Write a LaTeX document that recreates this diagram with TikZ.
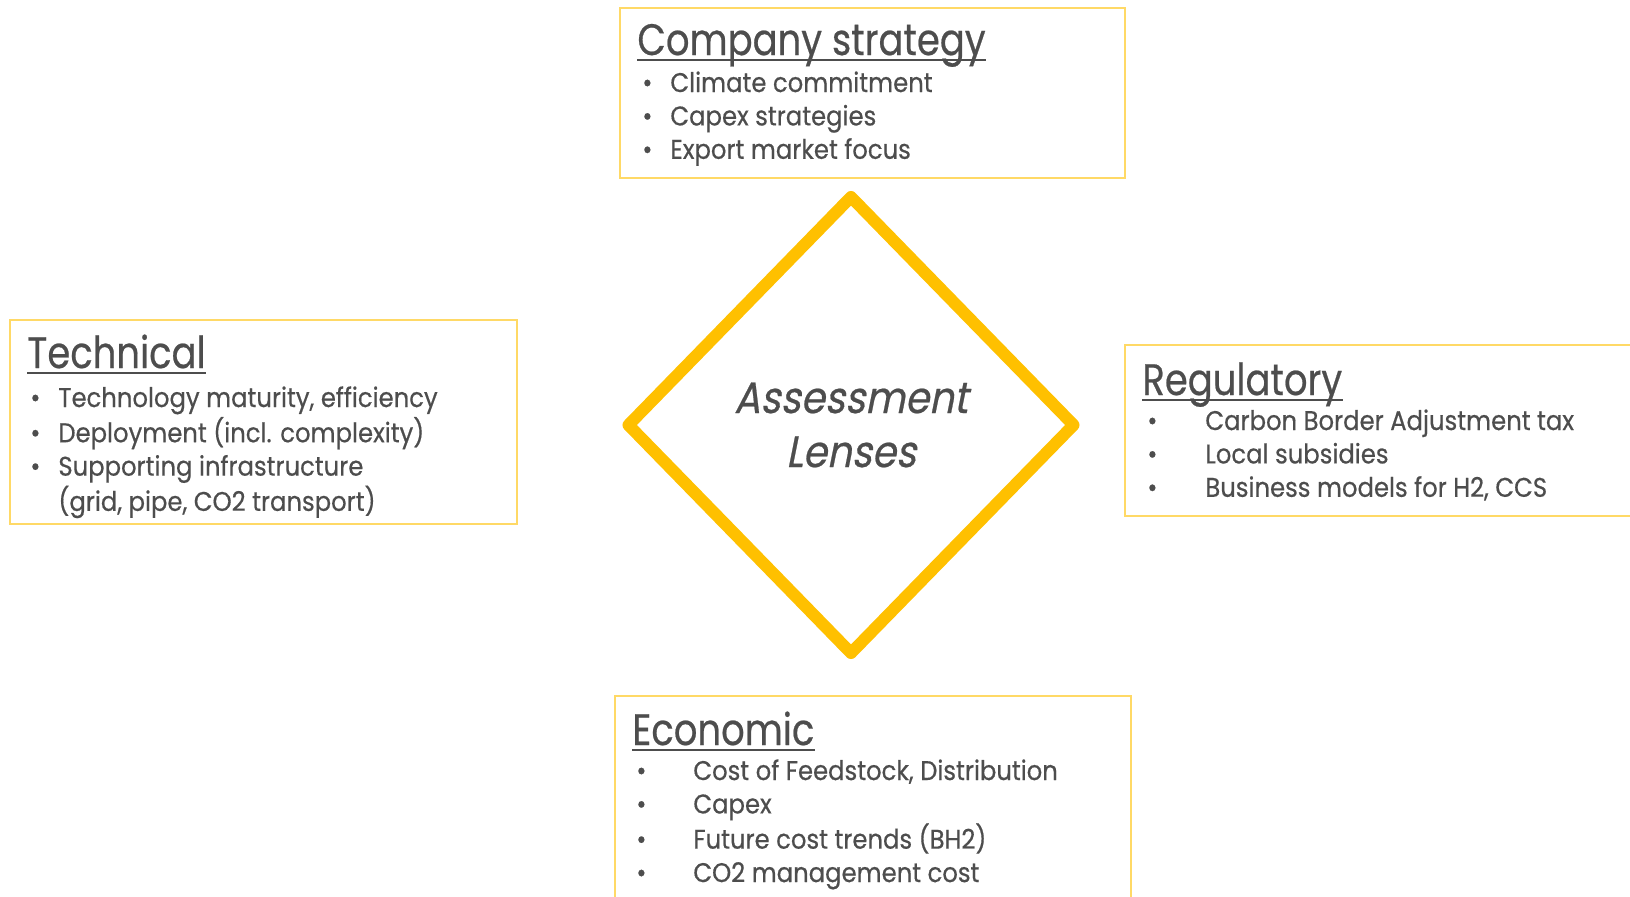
\documentclass[tikz,border=0pt]{standalone}
\usepackage{fontspec}
\setmainfont[FakeStretch=0.9,FakeBold=0.5]{Poppins}
\newfontfamily\headfont[FakeStretch=0.84,FakeBold=0.5]{Poppins}
\newfontfamily\lensfont[FakeSlant=0.2,FakeStretch=0.88,FakeBold=0.5]{Poppins}
\usetikzlibrary{shapes.geometric,calc}

\definecolor{lensyellow}{HTML}{FFC000}
\definecolor{boxyellow}{HTML}{FFD966}
\definecolor{inkgray}{HTML}{4D4D4D}

\begin{document}
\begin{tikzpicture}[
  x=0.5pt, y=-0.5pt,
  text=inkgray,
  box/.style={draw=boxyellow, line width=0.9pt, anchor=north west, inner sep=0pt},
  head/.style={font=\headfont\fontsize{22}{26}\selectfont, inner sep=0pt, anchor=base west},
  uline/.style={draw=inkgray, line width=1.4pt},
  items/.style={font=\fontsize{13.5}{16.7}\selectfont, inner sep=0pt, anchor=base west},
  lens/.style={diamond, draw=lensyellow, line width=6pt, line join=round, minimum width=225pt, minimum height=230.5pt, inner sep=0pt, align=center, font=\lensfont\fontsize{22}{27}\selectfont}
]
\clip (0,0) rectangle (1630,896);

% ----- CENTRE -----
\node[lens] (lens) at (851,425) {Assessment\\Lenses};

% ----- COMPANY STRATEGY (TOP) -----
\node[box, minimum width=252.5pt, minimum height=85pt] (strategy) at (619,7) {};
\node[head] (strategyhead) at (637,55) {Company strategy};
\draw[uline] ($(strategyhead.base west)+(0,5)$) -- ($(strategyhead.base east)+(0,5)$);
\node[items] (strategyitems) at (642,92) {\begin{tabular}[t]{@{}p{14pt}@{}l@{}}
  \textbullet & Climate commitment\\
  \textbullet & Capex strategies\\
  \textbullet & Export market focus
\end{tabular}};

% ----- TECHNICAL (LEFT) -----
\node[box, minimum width=253.5pt, minimum height=102pt] (technical) at (9,319) {};
\node[head] (technicalhead) at (27,368) {Technical};
\draw[uline] ($(technicalhead.base west)+(0,5)$) -- ($(technicalhead.base east)+(0,5)$);
\node[items] (technicalitems) at (30,407) {\begin{tabular}[t]{@{}p{14pt}@{}l@{}}
  \textbullet & Technology maturity, efficiency\\
  \textbullet & Deployment (incl. complexity)\\
  \textbullet & Supporting infrastructure\\
  & (grid, pipe, CO2 transport)
\end{tabular}};

% ----- REGULATORY (RIGHT) -----
\node[box, minimum width=263pt, minimum height=85.5pt] (regulatory) at (1124,344) {};
\node[head] (regulatoryhead) at (1142,395) {Regulatory};
\draw[uline] ($(regulatoryhead.base west)+(0,5)$) -- ($(regulatoryhead.base east)+(0,5)$);
\node[items] (regulatoryitems) at (1147,430) {\begin{tabular}[t]{@{}p{29pt}@{}l@{}}
  \textbullet & Carbon Border Adjustment tax\\
  \textbullet & Local subsidies\\
  \textbullet & Business models for H2, CCS
\end{tabular}};

% ----- ECONOMIC (BOTTOM) -----
\node[box, minimum width=258pt, minimum height=112pt] (economic) at (614,695) {};
\node[head] (economichead) at (632,745) {Economic};
\draw[uline] ($(economichead.base west)+(0,5)$) -- ($(economichead.base east)+(0,5)$);
\node[items] (economicitems) at (636,780) {\begin{tabular}[t]{@{}p{28.5pt}@{}l@{}}
  \textbullet & Cost of Feedstock, Distribution\\
  \textbullet & Capex\\
  \textbullet & Future cost trends (BH2)\\
  \textbullet & CO2 management cost
\end{tabular}};

\end{tikzpicture}
\end{document}
